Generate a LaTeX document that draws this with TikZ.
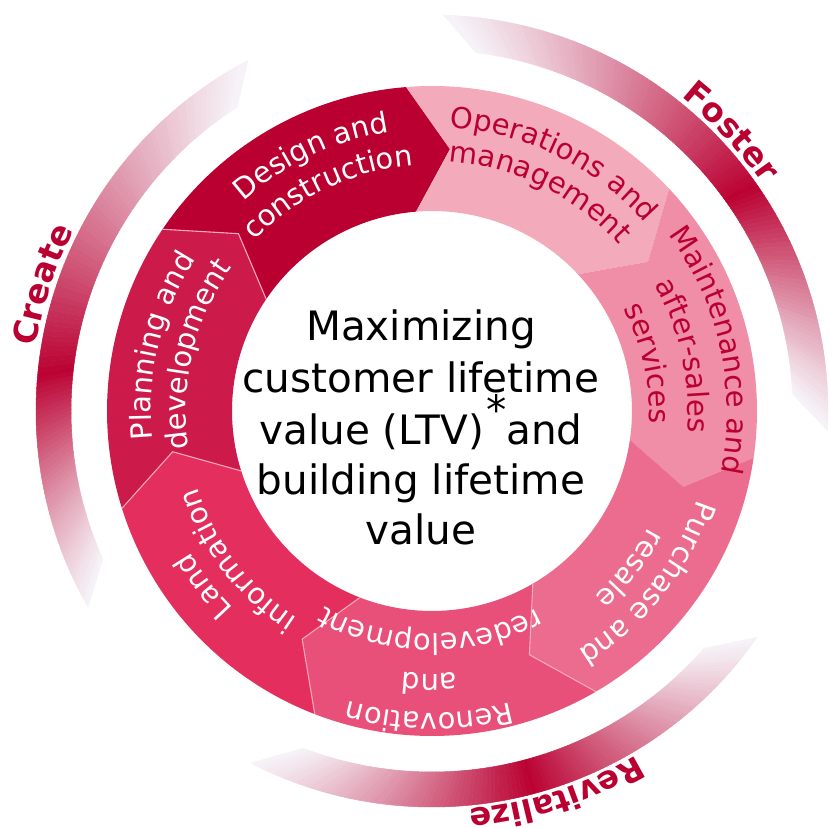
\documentclass[tikz,border=0pt]{standalone}
\usepackage{fontspec}
\setmainfont{DejaVu Sans}
\usetikzlibrary{decorations.text}

\definecolor{cDark}{RGB}{186,0,49}
\definecolor{cDesign}{RGB}{186,0,49}
\definecolor{cOper}{RGB}{243,170,187}
\definecolor{cMaint}{RGB}{240,141,167}
\definecolor{cPurch}{RGB}{236,108,143}
\definecolor{cReno}{RGB}{232,80,121}
\definecolor{cLand}{RGB}{227,46,94}
\definecolor{cPlan}{RGB}{204,26,74}
\definecolor{cEnd}{RGB}{246,242,247}
\definecolor{cSeam}{RGB}{244,168,188}

% text set along a clockwise arc around the centre, letters pointing outward
\newcommand\ringlabel[5]{% colour, centre angle, radius, font size, text
  \path[decorate, decoration={text along path, text color=#1, text align=center,
        text={|\fontsize{#4}{#4}\selectfont|#5}}]
    ({#2+45}:#3) arc[start angle={#2+45}, end angle={#2-45}, radius=#3];
}

% outer ribbon shaded from pale ends to a dark core
\newcommand\gradband[5]{% outer start, outer end, inner start, inner end, position of darkest part
  \foreach \gi in {0,...,119}{
    \pgfmathsetmacro\gta{\gi/120}
    \pgfmathsetmacro\gtb{(\gi+1)/120}
    \pgfmathsetmacro\gtm{(\gi+0.5)/120}
    \pgfmathsetmacro\gs{\gtm<#5 ? \gtm/#5 : (1-\gtm)/(1-#5)}
    \pgfmathtruncatemacro\gp{100*\gs^1.2}
    \colorlet{bandcol}{cDark!\gp!cEnd}
    \fill[bandcol, draw=bandcol, line width=0.5pt]
      ({#1+\gta*((#2)-(#1))}:396) -- ({#1+\gtb*((#2)-(#1))}:396) --
      ({#3+\gtb*((#4)-(#3))}:361) -- ({#3+\gta*((#4)-(#3))}:361) -- cycle;
  }
}

\begin{document}
\begin{tikzpicture}[x=1pt,y=1pt,
  centre text/.style={font=\fontsize{40.5}{51}\selectfont, text=black, inner sep=0pt, anchor=base}]
\fill[white] (-432,-417) rectangle (396,411);
\useasboundingbox (-432,-417) rectangle (396,411);

% outer ribbons
\gradband{209.7}{117.7}{204.2}{122.7}{0.38}
\gradband{88.3}{-2.8}{83}{2.7}{0.59}
\gradband{-34.9}{-117.2}{-41.1}{-110.9}{0.49}

% seven chevron segments of the ring
\foreach \k/\col in {0/cDesign,1/cOper,2/cMaint,3/cPurch,4/cReno,5/cLand,6/cPlan}{
  \pgfmathsetmacro\sa{146-51.4286*\k}
  \pgfmathsetmacro\sb{\sa-51.4286}
  \fill[\col] (\sa:325) arc[start angle=\sa, end angle=\sb, radius=325]
    -- ({\sb-8.5}:262.5) -- (\sb:200)
    arc[start angle=\sb, end angle=\sa, radius=200]
    -- ({\sa-8.5}:262.5) -- cycle;
}
% light seams between the darker segments
\foreach \sa in {146,-59.714,-111.143,-162.571}{
  \draw[cSeam, line width=1.1pt, line join=miter] (\sa:325) -- ({\sa-8.5}:262.5) -- (\sa:200);
}

% segment captions
\ringlabel{white}{115.3}{282}{29}{Design and}
\ringlabel{white}{115.3}{246}{29}{construction}
\ringlabel{cDark}{63.9}{284}{29}{Operations and}
\ringlabel{cDark}{63.9}{250}{29}{management}
\ringlabel{cDark}{12.4}{295}{29}{Maintenance and}
\ringlabel{cDark}{12.4}{256}{29}{after-sales}
\ringlabel{cDark}{12.4}{217}{29}{services}
\ringlabel{white}{-38.5}{280}{29}{Purchase and}
\ringlabel{white}{-38.5}{246}{29}{resale}
\ringlabel{white}{-90.5}{302}{29}{Renovation}
\ringlabel{white}{-90.5}{263}{29}{and}
\ringlabel{white}{-90.5}{223}{29}{redevelopment}
\ringlabel{white}{217.5}{280}{29}{Land}
\ringlabel{white}{217.5}{247}{29}{information}
\ringlabel{white}{166.5}{281}{29}{Planning and}
\ringlabel{white}{166.5}{246}{29}{development}

% ribbon titles
\path[decorate, decoration={text along path, text color=cDark, text align=center,
      text={|\fontsize{33}{33}\selectfont\bfseries|Create}}]
  (200:401) arc[start angle=200, end angle=124, radius=401];
\path[decorate, decoration={text along path, text color=cDark, text align=center,
      text={|\fontsize{33}{33}\selectfont\bfseries|Foster}}]
  (81:401) arc[start angle=81, end angle=5, radius=401];
\path[decorate, decoration={text along path, text color=cDark, text align=center,
      text={|\fontsize{32}{32}\selectfont\bfseries|Revitalize}}]
  (-32:400) arc[start angle=-32, end angle=-112, radius=400];

% central statement
\node[centre text] (l1) at (-11,71) {Maximizing};
\node[centre text] (l2) at (-11,19) {customer lifetime};
\node[centre text] (l3) at (-11,-33) {value (LTV)\kern2pt\raisebox{20pt}{*}and};
\node[centre text] (l4) at (-11,-83) {building lifetime};
\node[centre text] (l5) at (-11,-133) {value};
\end{tikzpicture}
\end{document}
